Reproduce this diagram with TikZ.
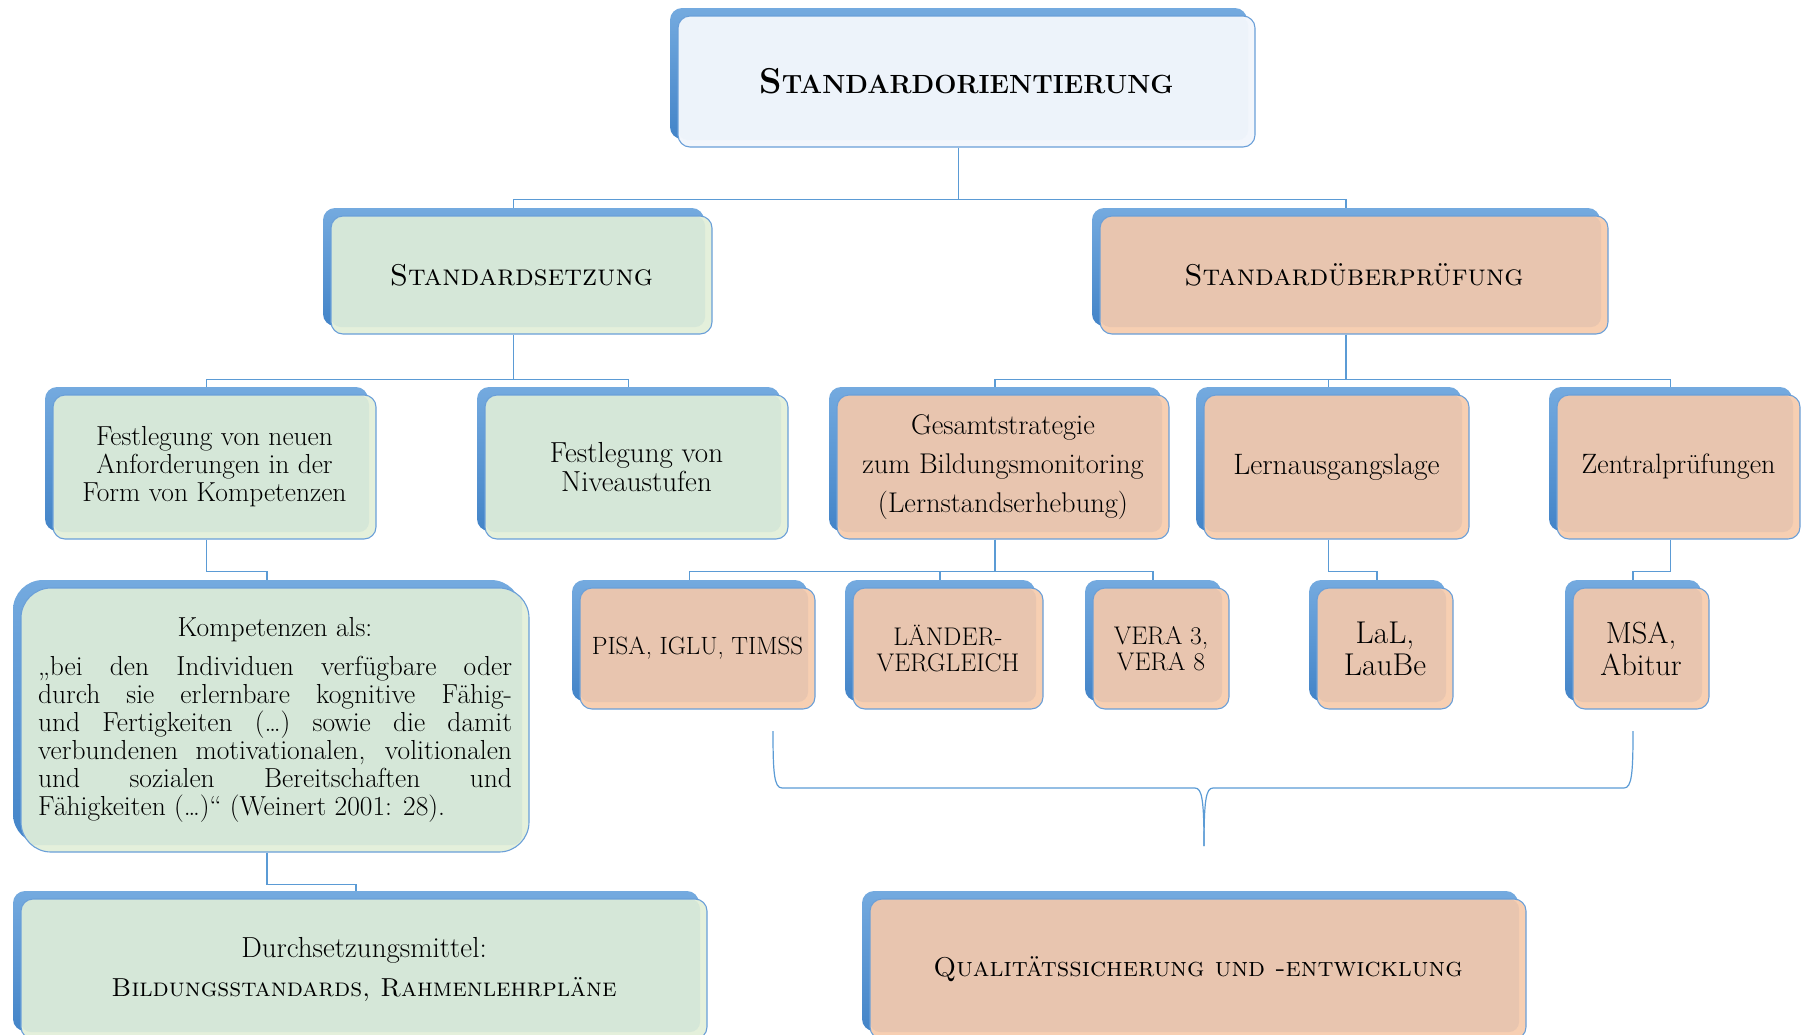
\documentclass[tikz,border=0pt]{standalone}
\usepackage{fontspec}
\usetikzlibrary{shadows,backgrounds}

\definecolor{schattenhell}{HTML}{74AADF}
\definecolor{schattendunkel}{HTML}{4384C8}
\definecolor{rand}{HTML}{6A9FD8}
\definecolor{linienblau}{HTML}{5B9BD5}
\definecolor{gruen}{HTML}{D5E7D8}
\definecolor{gruenrand}{HTML}{E4F0DB}
\definecolor{lachs}{HTML}{E8C5AF}
\definecolor{lachsrand}{HTML}{F7CFB2}
\definecolor{hellblau}{HTML}{EDF3FA}
\definecolor{hellblaurand}{HTML}{F2F6FC}

\tikzset{
  kasten/.style={draw=rand, line width=1.1pt, rounded corners=12pt, inner sep=0pt, align=center,
    general shadow={shadow xshift=-8pt, shadow yshift=8pt, opacity=1,
      top color=schattenhell, bottom color=schattendunkel}},
  fuellung/.style 2 args={fill=#2, path picture={
      \fill[#1, rounded corners=10pt] ([yshift=7pt]path picture bounding box.south west)
        rectangle ([xshift=-7pt]path picture bounding box.north east);}},
  gruenkasten/.style={kasten, fuellung={gruen}{gruenrand}},
  lachskasten/.style={kasten, fuellung={lachs}{lachsrand}},
  blaukasten/.style={kasten, fuellung={hellblau}{hellblaurand}},
  verbindung/.style={draw=linienblau, line width=1.2pt},
}

\begin{document}
\begin{tikzpicture}[x=1pt,y=-1pt]
  \useasboundingbox (0,0) rectangle (1802,1034);

  % obere Ebenen
  \node[blaukasten, minimum width=577pt, minimum height=131pt] (oben) at (966.5,81.5)
    {\bfseries\fontsize{36}{40}\selectfont S\fontsize{26.3}{40}\selectfont TANDARDORIENTIERUNG};
  \node[gruenkasten, minimum width=381pt, minimum height=118pt, font=\fontsize{30}{32}\selectfont] (setz) at (521.5,275)
    {\textsc{Standardsetzung}};
  \node[lachskasten, minimum width=508pt, minimum height=118pt, font=\fontsize{30}{32}\selectfont] (ueber) at (1354,275)
    {\textsc{Standardüberprüfung}};

  % dritte Ebene
  \node[gruenkasten, minimum width=323pt, minimum height=144pt, font=\fontsize{27.5}{28}\selectfont] (neu) at (214.5,467)
    {Festlegung von neuen\\Anforderungen in der\\Form von Kompetenzen};
  \node[gruenkasten, minimum width=303pt, minimum height=144pt, font=\fontsize{29}{28.5}\selectfont] (niveau) at (636.5,467)
    {Festlegung von\\Niveaustufen};
  \node[lachskasten, minimum width=332pt, minimum height=144pt, font=\fontsize{28.5}{39}\selectfont] (gesamt) at (1003,467)
    {Gesamtstrategie\\zum Bildungsmonitoring\\(Lernstandserhebung)};
  \node[lachskasten, minimum width=265pt, minimum height=144pt, font=\fontsize{29.5}{30}\selectfont] (lern) at (1336.5,467)
    {Lernausgangslage};
  \node[lachskasten, minimum width=243pt, minimum height=144pt, font=\fontsize{28}{30}\selectfont] (zentral) at (1678.5,467)
    {Zentralprüfungen};

  % Kompetenzbegriff
  \node[gruenkasten, rounded corners=30pt, minimum width=508pt, minimum height=264pt,
    text width=474pt, align=justify, font=\fontsize{27.5}{28}\selectfont] (komp) at (275,720)
    {\centerline{Kompetenzen als:}\vskip 11pt
     „bei den Individuen verfügbare oder\linebreak
     durch sie erlernbare kognitive Fähig-\linebreak
     und Fertigkeiten (…) sowie die damit\linebreak
     verbundenen motivationalen, volitionalen\linebreak
     und sozialen Bereitschaften und\linebreak
     Fähigkeiten (…)“ (Weinert 2001: 28).};

  % Instrumente
  \node[lachskasten, minimum width=235pt, minimum height=121pt, font=\fontsize{25}{26}\selectfont] (pisa) at (697.5,648.5)
    {PISA, IGLU, TIMSS};
  \node[lachskasten, minimum width=190pt, minimum height=121pt, font=\fontsize{25.5}{26}\selectfont] (laender) at (948,648.5)
    {LÄNDER-\\VERGLEICH};
  \node[lachskasten, minimum width=136pt, minimum height=121pt, font=\fontsize{25.5}{26}\selectfont] (vera) at (1161,648.5)
    {VERA 3,\\VERA 8};
  \node[lachskasten, minimum width=136pt, minimum height=121pt, font=\fontsize{31.5}{32}\selectfont] (lal) at (1385,648.5)
    {LaL,\\LauBe};
  \node[lachskasten, minimum width=136pt, minimum height=121pt, font=\fontsize{30.5}{32}\selectfont] (msa) at (1641,648.5)
    {MSA,\\Abitur};

  % untere Ebene
  \node[gruenkasten, minimum width=686pt, minimum height=140pt, font=\fontsize{29}{39}\selectfont] (durch) at (364,969)
    {Durchsetzungsmittel:\\\fontsize{26}{39}\selectfont\textsc{Bildungsstandards, Rahmenlehrpläne}};
  \node[lachskasten, minimum width=656pt, minimum height=140pt, font=\fontsize{27.2}{30}\selectfont] (quali) at (1198,969)
    {\textsc{Qualitätssicherung und -entwicklung}};

  % Verbindungen
  \begin{scope}[on background layer]
    \foreach \ziel in {setz,ueber}
      \draw[verbindung] ([xshift=-8pt]oben.south) -- ++(0,52) -| ([xshift=-8pt]\ziel.north);
    \foreach \ziel in {neu,niveau}
      \draw[verbindung] ([xshift=-8pt]setz.south) -- ++(0,45) -| ([xshift=-8pt]\ziel.north);
    \foreach \ziel in {gesamt,lern,zentral}
      \draw[verbindung] ([xshift=-8pt]ueber.south) -- ++(0,45) -| ([xshift=-8pt]\ziel.north);
    \foreach \ziel in {pisa,laender,vera}
      \draw[verbindung] ([xshift=-8pt]gesamt.south) -- ++(0,32) -| ([xshift=-8pt]\ziel.north);
    \draw[verbindung] ([xshift=-8pt]neu.south) -- ++(0,32) -| ([xshift=-8pt]komp.north);
    \draw[verbindung] ([xshift=-8pt]lern.south) -- ++(0,32) -| ([xshift=-8pt]lal.north);
    \draw[verbindung] ([xshift=-8pt]zentral.south) -- ++(0,32) -| ([xshift=-8pt]msa.north);
    \draw[verbindung] ([xshift=-8pt]komp.south) -- ++(0,32) -| ([xshift=-8pt]durch.north);
  \end{scope}

  % Klammer
  \coordinate (kl) at (773,731);
  \coordinate (kr) at (1633,731);
  \coordinate (ks) at (1204,846);
  \draw[verbindung] (kl) .. controls (773,772) and (774,788) .. (782,788) -- (1195,788)
    .. controls (1202,788) and (1204,800) .. (ks);
  \draw[verbindung] (kr) .. controls (1633,772) and (1632,788) .. (1624,788) -- (1213,788)
    .. controls (1206,788) and (1204,800) .. (ks);
\end{tikzpicture}
\end{document}
